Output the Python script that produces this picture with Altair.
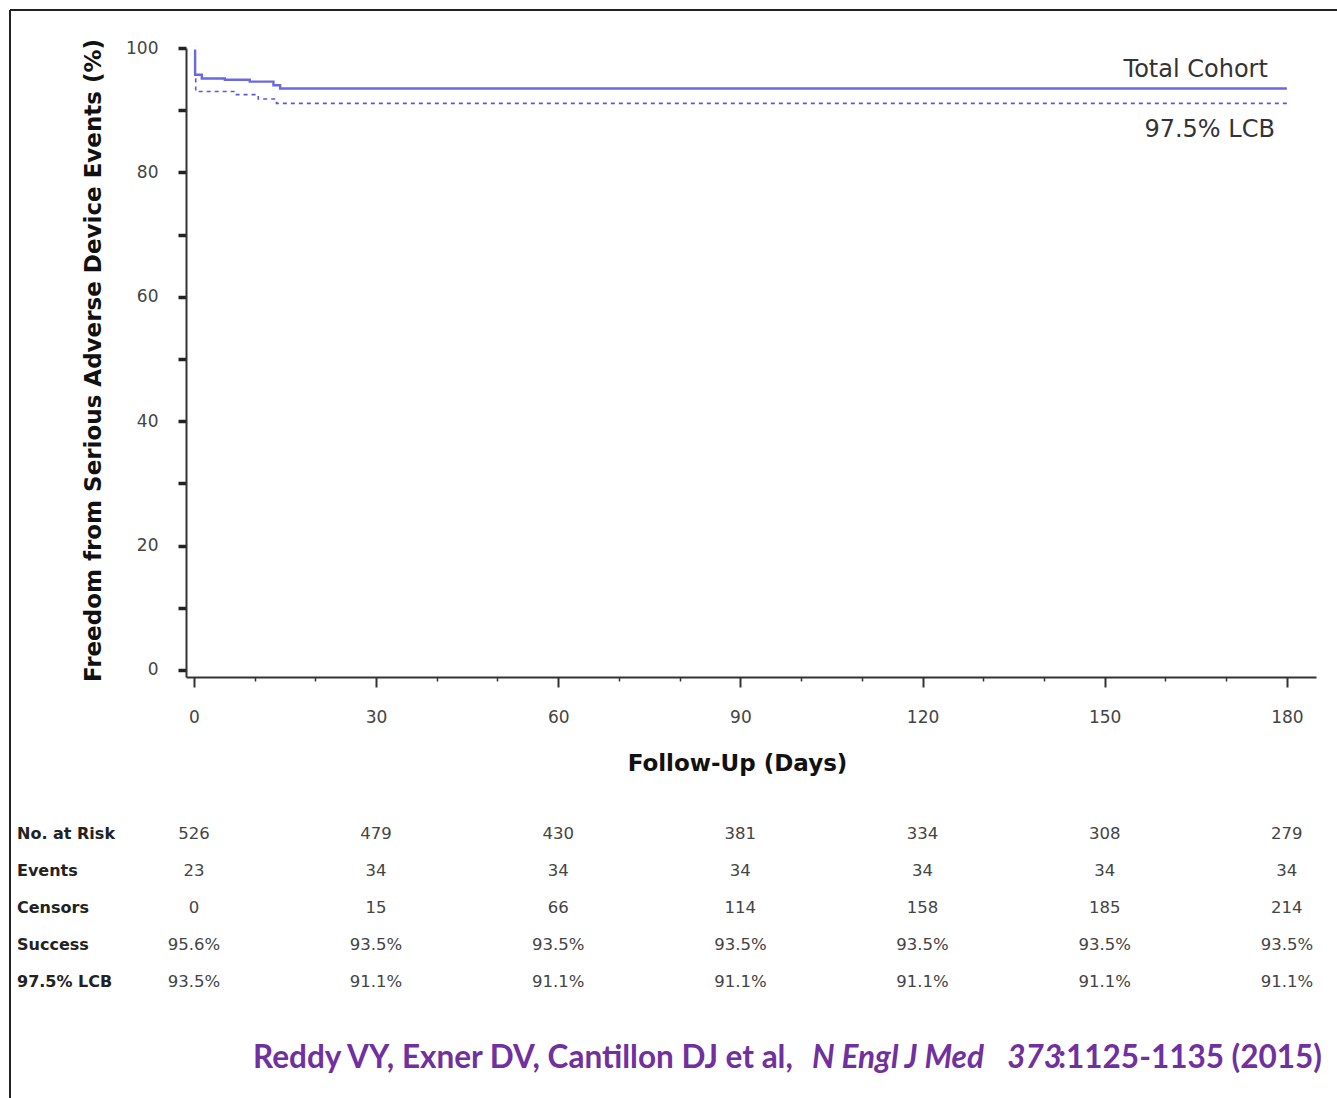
import altair as alt
import pandas as pd

# ---- data ----
cohort_days = [0, 0.2, 1.3, 5.1, 9.2, 13.1, 14.2, 180]
cohort_vals = [100, 95.7, 95.1, 94.9, 94.6, 94.0, 93.5, 93.5]
lcb_days = [0.2, 0.3, 7.0, 10.6, 13.6, 180]
lcb_vals = [95.0, 93.0, 92.5, 91.8, 91.1, 91.1]

table_days = [0, 30, 60, 90, 120, 150, 180]
row_names = ["No. at Risk", "Events", "Censors", "Success", "97.5% LCB"]
at_risk = ["526", "479", "430", "381", "334", "308", "279"]
events = ["23", "34", "34", "34", "34", "34", "34"]
censors = ["0", "15", "66", "114", "158", "185", "214"]
success = ["95.6%", "93.5%", "93.5%", "93.5%", "93.5%", "93.5%", "93.5%"]
lcb_row = ["93.5%", "91.1%", "91.1%", "91.1%", "91.1%", "91.1%", "91.1%"]

curve_df = pd.concat([
    pd.DataFrame({"day": cohort_days, "val": cohort_vals, "series": "Total Cohort"}),
    pd.DataFrame({"day": lcb_days, "val": lcb_vals, "series": "97.5% LCB"}),
])

W, H = 1130, 629
xscale = alt.Scale(domain=[-1.3, 184.8], nice=False, zero=False)
yscale = alt.Scale(domain=[-1.13, 100], nice=False, zero=False)

FONT = "DejaVu Sans"

xaxis = alt.Axis(
    values=list(range(0, 181, 10)),
    labelExpr="datum.value % 30 === 0 ? datum.label : ''",
    tickSize={"condition": {"test": "datum.value % 30 === 0", "value": 10}, "value": 4},
    tickWidth={"condition": {"test": "datum.value % 30 === 0", "value": 2}, "value": 1.5},
    tickColor="#333", domainColor="#333", domainWidth=2,
    labelFont=FONT, labelFontSize=17, labelColor="#444", labelPadding=22,
    grid=False, title="Follow-Up (Days)", titleFont=FONT, titleFontSize=23,
    titleFontWeight="bold", titleColor="#111", titleX=551, titleY=86,
    titleBaseline="middle", titleAlign="center",
)
yaxis = alt.Axis(
    values=list(range(0, 101, 5)),
    labelExpr="datum.value % 20 === 0 ? datum.label : ''",
    tickSize={"condition": {"test": "datum.value % 10 === 0", "value": 8}, "value": 4},
    tickWidth={"condition": {"test": "datum.value % 10 === 0", "value": 3.5}, "value": 1.5},
    tickColor="#222", domainColor="#333", domainWidth=2,
    labelFont=FONT, labelFontSize=17, labelColor="#444", labelPadding=20,
    grid=False, title="Freedom from Serious Adverse Device Events (%)", titleFont=FONT,
    titleFontSize=23, titleFontWeight="bold", titleColor="#111", titleX=-93, titleY=312,
    titleAngle=270, titleBaseline="middle", titleAlign="center",
)

one = pd.DataFrame({"k": [0]})
# white masks over the light plot-frame edges (top and right)
mask_top = alt.Chart(one).mark_rule(color="white", strokeWidth=3).encode(
    x=alt.value(3), x2=alt.value(W + 3), y=alt.value(0)
)
mask_right = alt.Chart(one).mark_rule(color="white", strokeWidth=3).encode(
    x=alt.value(W), y=alt.value(-2), y2=alt.value(H - 3)
)

base = alt.Chart(curve_df)

solid = base.transform_filter(alt.datum.series == "Total Cohort").mark_line(
    interpolate="step-after", color="#6a6ae0", strokeWidth=2.4
).encode(x=alt.X("day:Q", scale=xscale, axis=xaxis), y=alt.Y("val:Q", scale=yscale, axis=yaxis))

dashed = base.transform_filter(alt.datum.series == "97.5% LCB").mark_line(
    interpolate="step-after", color="#5858d8", strokeWidth=1.6, strokeDash=[4, 4]
).encode(x=alt.X("day:Q", scale=xscale), y=alt.Y("val:Q", scale=yscale))

lab_df = pd.DataFrame({"day": [180, 180], "val": [93.5, 91.1], "series": ["Total Cohort", "97.5% LCB"]})
lab1 = alt.Chart(lab_df).transform_filter(alt.datum.series == "Total Cohort").mark_text(
    align="right", baseline="middle", dx=-19, dy=-18, font=FONT, fontSize=24, color="#333"
).encode(x=alt.X("day:Q", scale=xscale), y=alt.Y("val:Q", scale=yscale), text="series:N")
lab2 = alt.Chart(lab_df).transform_filter(alt.datum.series == "97.5% LCB").mark_text(
    align="right", baseline="middle", dx=-12, dy=27, font=FONT, fontSize=24, color="#333"
).encode(x=alt.X("day:Q", scale=xscale), y=alt.Y("val:Q", scale=yscale), text="series:N")

layers = [solid, mask_top, mask_right, dashed, lab1, lab2]

# risk table: one text layer per row, placed below the axis
ROW_Y0, ROW_STEP = 786, 37
for i, (name, vals) in enumerate(zip(row_names, [at_risk, events, censors, success, lcb_row])):
    df = pd.DataFrame({"day": table_days, "txt": vals})
    layers.append(
        alt.Chart(df).mark_text(
            align="center", baseline="middle", font=FONT, fontSize=16.5, color="#444"
        ).encode(x=alt.X("day:Q", scale=xscale), y=alt.value(ROW_Y0 + ROW_STEP * i), text="txt:N")
    )
    layers.append(
        alt.Chart(pd.DataFrame({"row": [name]})).mark_text(
            align="left", baseline="middle", font=FONT, fontSize=16, fontWeight="bold", color="#222"
        ).encode(x=alt.value(-169), y=alt.value(ROW_Y0 + ROW_STEP * i), text="row:N")
    )

layers.append(alt.Chart(one).mark_rule(color="#222", strokeWidth=2).encode(
    x=alt.value(-176), x2=alt.value(1151), y=alt.value(-38)
))
layers.append(alt.Chart(one).mark_rule(color="#222", strokeWidth=2).encode(
    x=alt.value(-176), y=alt.value(-38), y2=alt.value(1050)
))

cit_color = "#7030a0"
CFONT = "Lato"
CSIZE = 31.5


def cit(text, x, align, italic=False):
    kw = dict(align=align, baseline="middle", font=CFONT, fontSize=CSIZE,
              fontWeight="bold", color=cit_color)
    if italic:
        kw["fontStyle"] = "italic"
    return alt.Chart(pd.DataFrame({"t": [text]})).mark_text(**kw).encode(
        x=alt.value(x - 186), y=alt.value(1011), text="t:N"
    )


layers += [
    cit("Reddy VY, Exner DV, Cantillon DJ et al,", 253, "left"),
    cit("N Engl J Med", 812, "left", italic=True),
    cit("373", 1062, "right", italic=True),
    cit(":1125-1135 (2015)", 1322, "right"),
]

chart = alt.layer(*layers).properties(
    width=W, height=H,
    background="white",
    autosize=alt.AutoSizeParams(type="none"),
    padding={"left": 186, "top": 48, "right": 21, "bottom": 421},
).configure_view(stroke=None)

chart.save("out.html", embed_options={"renderer": "svg", "actions": False})
